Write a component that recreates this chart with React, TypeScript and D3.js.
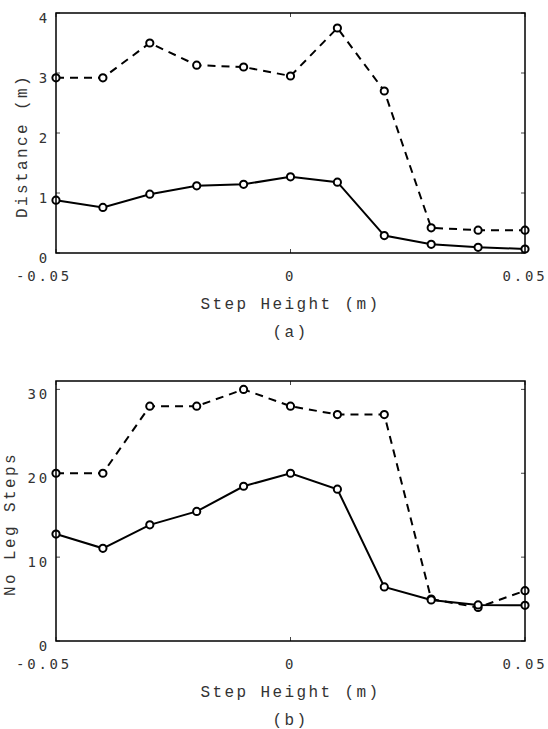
import React from "react";
import * as d3 from "d3";

// step heights (m)
const steps = [-0.05, -0.04, -0.03, -0.02, -0.01, 0, 0.01, 0.02, 0.03, 0.04, 0.05];

// (a) distance (m)
const distDashed = [2.92, 2.92, 3.5, 3.13, 3.1, 2.95, 3.75, 2.7, 0.42, 0.38, 0.38];
const distSolid = [0.88, 0.76, 0.98, 1.12, 1.145, 1.27, 1.18, 0.29, 0.145, 0.095, 0.067];

// (b) number of leg steps
const legDashed = [20, 20, 28, 28, 30, 28, 27, 27, 5, 4, 6];
const legSolid = [12.75, 11.05, 13.85, 15.45, 18.45, 20, 18.1, 6.45, 4.9, 4.3, 4.25];

const xTicks = [-0.05, 0, 0.05];
const xTickLabels = ["-0.05", "0", "0.05"];
const distTicks = [0, 1, 2, 3, 4];
const legTicks = [0, 10, 20, 30];

const W = 548;
const H = 729;
const left = 56;
const right = 525;

const tickFont = "'DejaVu Sans Mono', monospace";
const labelFont = "'Liberation Mono', 'Courier New', monospace";

type PanelProps = {
  top: number;
  bottom: number;
  yMax: number;
  yTicks: number[];
  dashed: number[];
  solid: number[];
  yLabel: string;
  yLabelX: number;
  caption: string;
};

function Panel(props: PanelProps) {
  const { top, bottom, yMax, yTicks, dashed, solid, yLabel, yLabelX, caption } = props;

  const x = d3.scaleLinear().domain([-0.05, 0.05]).range([left, right]);
  const y = d3.scaleLinear().domain([0, yMax]).range([bottom, top]);

  const line = d3
    .line<number>()
    .x((d, i) => x(steps[i]))
    .y((d) => y(d));

  const midY = (top + bottom) / 2 + 13;

  const markers = (vals: number[], key: string) =>
    vals.map((v, i) => (
      <circle
        key={key + i}
        cx={x(steps[i])}
        cy={y(v)}
        r={3.6}
        fill="white"
        stroke="black"
        strokeWidth={2}
      />
    ));

  return (
    <g>
      {/* ticks, inside on all four sides */}
      {xTicks.map((t) => (
        <g key={"xt" + t}>
          <line x1={x(t)} x2={x(t)} y1={bottom} y2={bottom - 4} stroke="#444" />
          <line x1={x(t)} x2={x(t)} y1={top} y2={top + 4} stroke="#444" />
        </g>
      ))}
      {yTicks.map((t) => (
        <g key={"yt" + t}>
          <line x1={left} x2={left + 4} y1={y(t)} y2={y(t)} stroke="#444" />
          <line x1={right} x2={right - 4} y1={y(t)} y2={y(t)} stroke="#444" />
        </g>
      ))}

      <path d={line(dashed) || ""} fill="none" stroke="black" strokeWidth={2} strokeDasharray="8,6" />
      <path d={line(solid) || ""} fill="none" stroke="black" strokeWidth={2} />
      {markers(dashed, "d")}
      {markers(solid, "s")}

      <rect x={left} y={top} width={right - left} height={bottom - top} fill="none" stroke="black" strokeWidth={1.5} />

      {/* tick labels */}
      {xTicks.map((t, i) => (
        <text
          key={"xl" + t}
          x={x(t) + (t < 0 ? -12 : 0)}
          y={bottom + 28}
          textAnchor="middle"
          fontFamily={tickFont}
          fontSize={14}
          letterSpacing={2.8}
          fill="#333"
        >
          {xTickLabels[i]}
        </text>
      ))}
      {yTicks.map((t) => (
        <text
          key={"yl" + t}
          x={50}
          y={y(t) + 10}
          textAnchor="end"
          fontFamily={tickFont}
          fontSize={14}
          letterSpacing={2.8}
          fill="#333"
        >
          {t}
        </text>
      ))}

      <text
        x={(left + right) / 2}
        y={bottom + 56}
        textAnchor="middle"
        fontFamily={labelFont}
        fontSize={16}
        letterSpacing={2.4}
        fill="#333"
      >
        Step Height (m)
      </text>
      <text
        x={(left + right) / 2}
        y={bottom + 84}
        textAnchor="middle"
        fontFamily={labelFont}
        fontSize={16}
        letterSpacing={2.4}
        fill="#333"
      >
        {caption}
      </text>
      <text
        transform={`translate(${yLabelX},${midY}) rotate(-90)`}
        textAnchor="middle"
        fontFamily={labelFont}
        fontSize={16}
        letterSpacing={2.4}
        fill="#333"
      >
        {yLabel}
      </text>
    </g>
  );
}

export default function App() {
  return (
    <svg width={W} height={H} style={{ position: "absolute", left: 0, top: 0, background: "white" }}>
      <Panel
        top={13}
        bottom={253}
        yMax={4}
        yTicks={distTicks}
        dashed={distDashed}
        solid={distSolid}
        yLabel="Distance (m)"
        yLabelX={27}
        caption="(a)"
      />
      <Panel
        top={381}
        bottom={641}
        yMax={31}
        yTicks={legTicks}
        dashed={legDashed}
        solid={legSolid}
        yLabel="No Leg Steps"
        yLabelX={15}
        caption="(b)"
      />
    </svg>
  );
}
